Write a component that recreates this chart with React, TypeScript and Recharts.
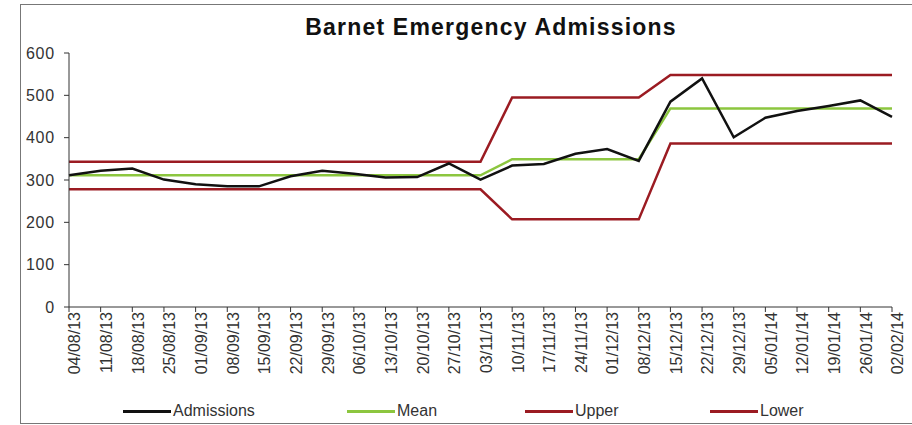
import { LineChart, Line, XAxis, YAxis, Legend } from "recharts";

const weeks = [
  "04/08/13", "11/08/13", "18/08/13", "25/08/13", "01/09/13", "08/09/13", "15/09/13",
  "22/09/13", "29/09/13", "06/10/13", "13/10/13", "20/10/13", "27/10/13", "03/11/13",
  "10/11/13", "17/11/13", "24/11/13", "01/12/13", "08/12/13", "15/12/13", "22/12/13",
  "29/12/13", "05/01/14", "12/01/14", "19/01/14", "26/01/14", "02/02/14",
];

const admissions = [
  311, 322, 327, 301, 290, 285, 285, 309, 322, 315, 306, 307, 339, 301,
  334, 338, 362, 373, 345, 485, 540, 401, 447, 463, 475, 488, 449,
];

const mean = [
  311, 311, 311, 311, 311, 311, 311, 311, 311, 311, 311, 311, 311, 311,
  349, 349, 349, 349, 349, 469, 469, 469, 469, 469, 469, 469, 469,
];

const upper = [
  343, 343, 343, 343, 343, 343, 343, 343, 343, 343, 343, 343, 343, 343,
  495, 495, 495, 495, 495, 548, 548, 548, 548, 548, 548, 548, 548,
];

const lower = [
  278, 278, 278, 278, 278, 278, 278, 278, 278, 278, 278, 278, 278, 278,
  207, 207, 207, 207, 207, 386, 386, 386, 386, 386, 386, 386, 386,
];

const yTicks = [0, 100, 200, 300, 400, 500, 600];

const data = weeks.map((week, i) => ({
  week,
  admissions: admissions[i],
  mean: mean[i],
  upper: upper[i],
  lower: lower[i],
}));

const FONT = "Arial, 'Liberation Sans', sans-serif";

const legendItems = [
  { name: "Admissions", color: "#111111", width: 224 },
  { name: "Mean", color: "#8cc63f", width: 178 },
  { name: "Upper", color: "#9b1b22", width: 185 },
  { name: "Lower", color: "#9b1b22", width: 120 },
];

function ChartLegend() {
  return (
    <div style={{ display: "flex", height: 24, alignItems: "center", paddingLeft: 103, fontFamily: FONT, fontSize: 16, color: "#333" }}>
      {legendItems.map((it) => (
        <div key={it.name} style={{ width: it.width, display: "flex", alignItems: "center" }}>
          <span style={{ display: "inline-block", width: 48, height: 3, background: it.color, marginRight: 2 }} />
          <span>{it.name}</span>
        </div>
      ))}
    </div>
  );
}

export default function App() {
  return (
    <div style={{ position: "absolute", left: 0, top: 0, width: 912, height: 425, background: "#fff", overflow: "hidden" }}>
      <div style={{ position: "absolute", left: 20, top: 4, width: 900, height: 418, border: "1.5px solid #777", borderRight: "none" }} />
      <div style={{ position: "absolute", left: 0, top: 14, width: 982, textAlign: "center", fontFamily: FONT, fontWeight: "bold", fontSize: 23, letterSpacing: 1.2, color: "#111" }}>
        Barnet Emergency Admissions
      </div>
      <LineChart width={912} height={425} data={data} margin={{ top: 53, right: 20, left: 20, bottom: 2 }} style={{ position: "absolute", left: 0, top: 0 }}>
        <XAxis
          dataKey="week"
          interval={0}
          height={92}
          angle={-90}
          textAnchor="end"
          tick={{ fontSize: 16, fill: "#333", fontFamily: FONT, dy: -4 }}
          tickSize={5}
          stroke="#333"
          tickMargin={4}
        />
        <YAxis
          domain={[0, 600]}
          ticks={yTicks}
          width={49}
          tick={{ fontSize: 16, fill: "#333", fontFamily: FONT, letterSpacing: 0.8 }}
          tickSize={5}
          stroke="#333"
          tickMargin={9}
        />
        <Legend verticalAlign="bottom" height={24} content={() => <ChartLegend />} />
        <Line dataKey="upper" name="Upper" stroke="#9b1b22" strokeWidth={2.5} dot={false} isAnimationActive={false} />
        <Line dataKey="lower" name="Lower" stroke="#9b1b22" strokeWidth={2.5} dot={false} isAnimationActive={false} />
        <Line dataKey="mean" name="Mean" stroke="#8cc63f" strokeWidth={2.5} dot={false} isAnimationActive={false} />
        <Line dataKey="admissions" name="Admissions" stroke="#111111" strokeWidth={2.5} dot={false} isAnimationActive={false} />
      </LineChart>
    </div>
  );
}
